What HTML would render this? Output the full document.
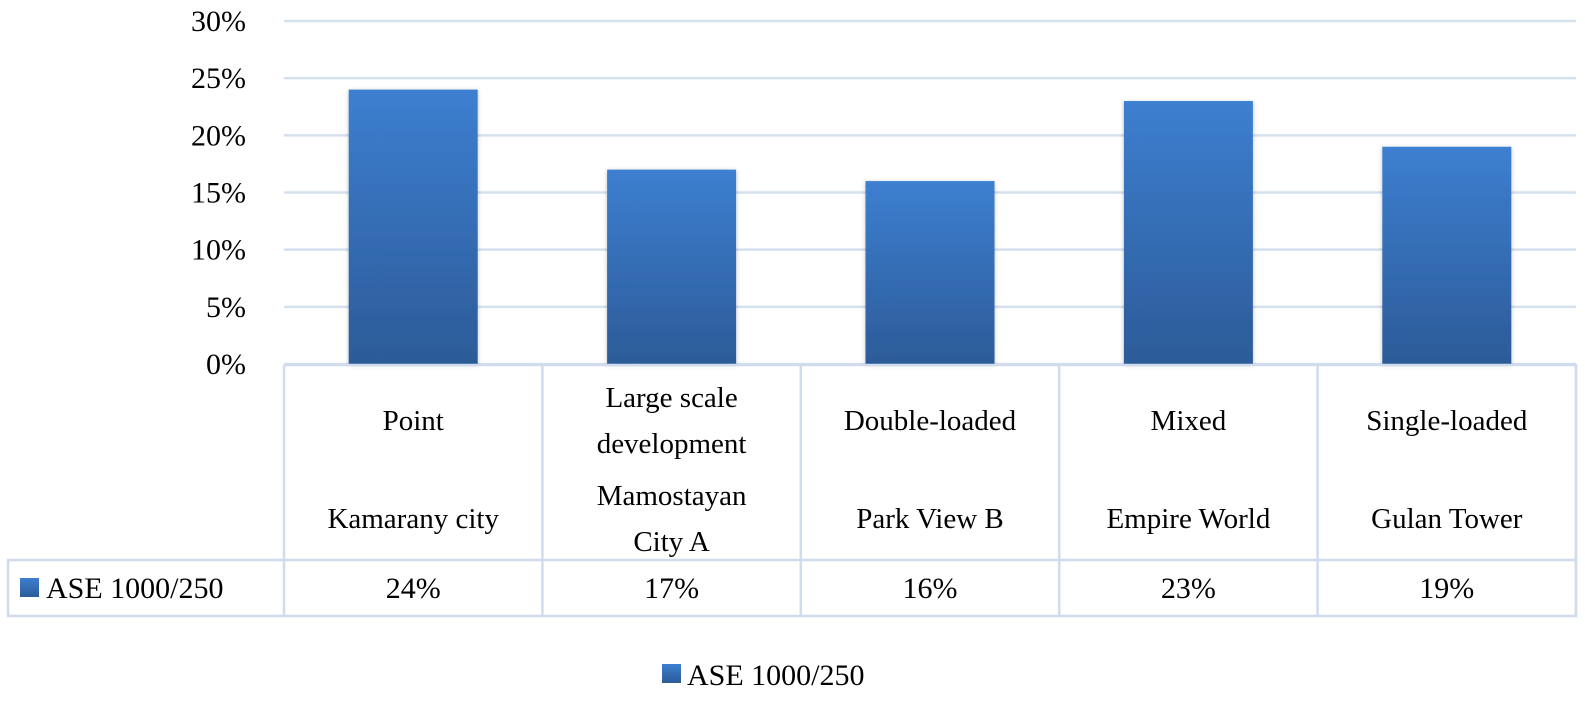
<!DOCTYPE html>
<html><head><meta charset="utf-8"><style>
body{margin:0;background:#fff;}
svg text{font-family:"Liberation Serif",serif;fill:#000;}
</style></head><body>
<svg width="1585" height="698" xmlns="http://www.w3.org/2000/svg">
<defs><linearGradient id="bg" x1="0" y1="0" x2="0" y2="1"><stop offset="0" stop-color="#3d7fd0"/><stop offset="1" stop-color="#2c5b98"/></linearGradient>
<filter id="sh" x="-10%" y="-10%" width="120%" height="120%"><feDropShadow dx="0" dy="1" stdDeviation="2" flood-color="#000" flood-opacity="0.25"/></filter></defs>
<g id="grid"></g><g id="bars"></g><g id="table"></g>
<g>
<rect x="662" y="664" width="19" height="19" fill="url(#bg)"/>
<text x="687" y="685" font-size="30">ASE 1000/250</text></g>
</svg>
<script>
const categories=[["Point","Kamarany city"],["Large scale|development","Mamostayan|City A"],["Double-loaded","Park View B"],["Mixed","Empire World"],["Single-loaded","Gulan Tower"]];
const values=[24,17,16,23,19];
const yTicks=[0,5,10,15,20,25,30];
const seriesName="ASE 1000/250";
const NS="http://www.w3.org/2000/svg";
const x0=284,x1=1576,yZero=364,yTop=21,yMax=30;
const bw=(x1-x0)/categories.length;
const y=v=>yZero-(v/yMax)*(yZero-yTop);
function mk(t,a,p,txt){const e=document.createElementNS(NS,t);for(const k in a)e.setAttribute(k,a[k]);if(txt!=null)e.textContent=txt;p.appendChild(e);return e;}
const g=document.getElementById('grid'),b=document.getElementById('bars'),tb=document.getElementById('table');
yTicks.forEach(t=>{
 const l=mk('line',{x1:x0,x2:x1,y1:y(t),y2:y(t),stroke:'#d5e0ef','stroke-width':2.5},g);
 
 
 const tx=mk('text',{x:246,y:y(t)+10,'font-size':30,'text-anchor':'end'},g,t+'%');
 
 
});
values.forEach((v,i)=>{
 const cx=x0+bw*(i+0.5);
 const r=mk('rect',{x:cx-64.5,y:y(v),width:129,height:yZero-y(v),fill:'url(#bg)',filter:'url(#sh)'},b);
 
 
});
// table
const tTop=365,rTop=560,rBot=616,st={stroke:'#d0dcee','stroke-width':2.5,fill:'none'};
let e=mk('path',Object.assign({d:`M${x0} ${tTop}H${x1}V${rBot}H8V${rTop}H${x1}`},st),tb);


for(let i=0;i<=categories.length;i++){
 const l=mk('line',Object.assign({x1:x0+bw*i,x2:x0+bw*i,y1:tTop,y2:rBot},st),tb);
 
 
}
categories.forEach((c,i)=>{
 const cx=x0+bw*(i+0.5);
 c.forEach((part,j)=>{
  const lines=part.split('|');
  const center=j===0?420:518;
  lines.forEach((ln,k)=>{
   const yy=center+(k-(lines.length-1)/2)*46+10;
   const t=mk('text',{x:cx,y:yy,'font-size':29,'text-anchor':'middle'},tb,ln);
   
   
  });
 });
 const vt=mk('text',{x:cx,y:598,'font-size':30,'text-anchor':'middle'},tb,values[i]+'%');
 
 
});
const sq=mk('rect',{x:20,y:578,width:19,height:19,fill:'url(#bg)'},tb);


const sn=mk('text',{x:46,y:598,'font-size':30},tb,seriesName);


</script>
</body></html>
